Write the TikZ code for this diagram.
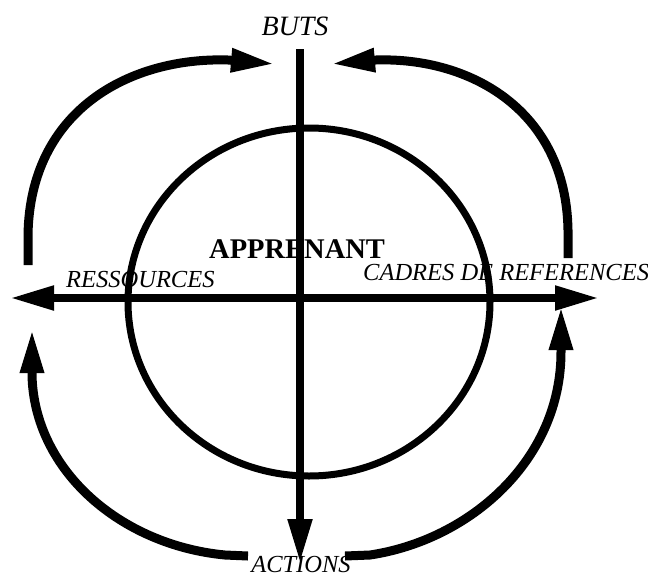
\documentclass[tikz,border=0pt]{standalone}
\usepackage{fontspec}
\setmainfont{Liberation Serif}
\usetikzlibrary{arrows.meta}
\tikzset{
  axis/.style={line width=8pt, -{Triangle[length=44pt,width=23pt]}},
  loop/.style={line width=9pt, -{Triangle[length=44pt,width=22pt]}},
  lbl/.style={inner sep=0pt, font=\fontsize{24.5}{28}\selectfont\itshape},
}
\begin{document}
\begin{tikzpicture}[x=1pt,y=-1pt]
\useasboundingbox[fill=white] (0,0) rectangle (648,579);
% coordinates
\coordinate (vtop) at (300,49);
\coordinate (vbot) at (300,563);
\coordinate (hleft) at (10,298);
\coordinate (hright) at (599,298);
\coordinate (center) at (300,298);
% ellipse
\draw[line width=7pt] (309,302) ellipse [x radius=181, y radius=174];
% axes
\draw[axis] (vtop) -- (vbot);
\draw[axis] (center) -- (hleft);
\draw[axis] (center) -- (hright);
% loops
\coordinate (tlA) at (28,265);
\coordinate (tlB) at (275,64);
\draw[loop] (tlA) -- (28,235) .. controls (30,110) and (130,57) .. (228,60) -- (tlB);
\coordinate (trA) at (568,258);
\coordinate (trB) at (331,64);
\draw[loop] (trA) -- (568,230) .. controls (566,110) and (470,57) .. (376,60) -- (trB);
\coordinate (blA) at (248,556);
\coordinate (blB) at (32,329);
\draw[loop] (blA) -- (225,555) .. controls (120,545) and (34,470) .. (32,375) -- (blB);
\coordinate (brA) at (345,556);
\coordinate (brB) at (561,306);
\draw[loop] (brA) -- (370,555) .. controls (470,540) and (561,460) .. (561,352) -- (brB);
% labels
\node[lbl, font=\fontsize{28}{32}\selectfont\itshape, anchor=base] (buts) at (295,35) {BUTS};
\node[inner sep=0pt, font=\fontsize{28.5}{32}\selectfont\bfseries, anchor=base west] (app) at (209,258) {APPRENANT};
\node[lbl, anchor=base west] (res) at (66,287) {RESSOURCES};
\node[lbl, anchor=base west] (cad) at (363,280) {CADRES DE REFERENCES};
\node[lbl, anchor=base] (act) at (301,572) {ACTIONS};
\end{tikzpicture}
\end{document}
